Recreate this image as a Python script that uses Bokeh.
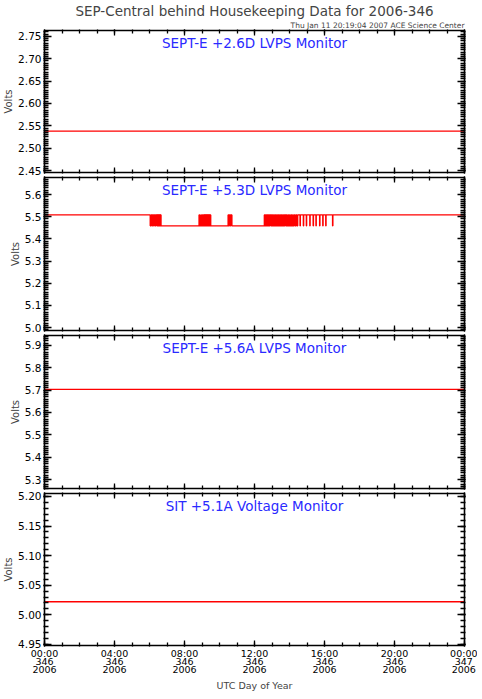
from bokeh.plotting import figure
from bokeh.models import Range1d, FixedTicker, LinearAxis, Label, Title, PrintfTickFormatter
from bokeh.layouts import column
from bokeh.embed import file_html
from bokeh.resources import INLINE
import numpy as np

TITLE = "SEP-Central behind Housekeeping Data for 2006-346"
SUBTITLE = "Thu Jan 11 20:19:04 2007 ACE Science Center"
panel_titles = ["SEPT-E +2.6D LVPS Monitor", "SEPT-E +5.3D LVPS Monitor",
                "SEPT-E +5.6A LVPS Monitor", "SIT +5.1A Voltage Monitor"]
x_label = "UTC Day of Year"
y_label = "Volts"

# x axis (hours since 2006-346 00:00)
x_tick_hours = [0, 4, 8, 12, 16, 20, 24]
x_tick_labels = ["00:00\n346\n2006", "04:00\n346\n2006", "08:00\n346\n2006",
                 "12:00\n346\n2006", "16:00\n346\n2006", "20:00\n346\n2006",
                 "00:00\n347\n2006"]

# y axes
y_ranges = [(2.4456, 2.7631), (4.987, 5.677), (5.260, 5.944), (4.948, 5.205)]
y_major = [[2.45, 2.50, 2.55, 2.60, 2.65, 2.70, 2.75],
           [5.0, 5.1, 5.2, 5.3, 5.4, 5.5, 5.6],
           [5.3, 5.4, 5.5, 5.6, 5.7, 5.8, 5.9],
           [4.95, 5.00, 5.05, 5.10, 5.15, 5.20]]
y_minor_step = [0.005, 0.01, 0.01, 0.01]
y_fmt = ["%.2f", "%.1f", "%.1f", "%.2f"]

# flat series
hours_flat = [0, 4, 8, 12, 16, 20, 24]
volts_26d = [2.538, 2.538, 2.538, 2.538, 2.538, 2.538, 2.538]
volts_56a = [5.703, 5.703, 5.703, 5.703, 5.703, 5.703, 5.703]
volts_51a = [5.022, 5.022, 5.022, 5.022, 5.022, 5.022, 5.022]

# +5.3D series: two levels, with intervals (hours) spent at the low level
volts_53d_high = 5.508
volts_53d_low = 5.459
low_start = [6.04, 6.14, 6.23, 6.32, 6.42, 6.48, 6.54, 6.60, 6.66,
             8.87, 8.97, 9.06, 9.13, 9.19, 9.25, 9.31, 9.37, 9.43, 9.50,
             10.53, 10.62, 10.71,
             12.60, 12.68, 12.76, 12.84, 12.93, 13.01, 13.09, 13.18, 13.26, 13.35,
             13.43, 13.52, 13.60, 13.69, 13.78, 13.86, 13.95, 14.04, 14.13, 14.22,
             14.32, 14.42,
             14.60, 14.79, 14.96, 15.16, 15.35, 15.51, 15.72, 15.90, 16.07, 16.46]
low_end = [6.09, 6.18, 6.27, 6.36, 6.45, 6.51, 6.57, 6.63, 8.83,
           8.93, 9.02, 9.10, 9.16, 9.22, 9.28, 9.34, 9.40, 9.46, 10.49,
           10.57, 10.66, 12.56,
           12.64, 12.72, 12.80, 12.88, 12.97, 13.05, 13.14, 13.22, 13.31, 13.39,
           13.48, 13.56, 13.65, 13.73, 13.82, 13.91, 14.00, 14.09, 14.18, 14.27,
           14.37, 14.47,
           14.62, 14.81, 14.98, 15.18, 15.37, 15.53, 15.74, 15.92, 16.09, 16.48]

t53 = [0.0]
v53 = [volts_53d_high]
for s, e in zip(low_start, low_end):
    t53 += [s, e]
    v53 += [volts_53d_low, volts_53d_high]
t53.append(24.0)
v53.append(volts_53d_high)

FONT = "DejaVu Sans"
RED = "#ff0000"
BLUE = "#2a2aff"

frame_heights = [142, 153, 153, 152]
borders = [(0, 4), (1, 4), (1, 2), (3, 0)]
FRAME_W = 420


def make_axis(kind, ticks, minor, show_labels, fmt=None):
    ax = LinearAxis()
    ax.ticker = FixedTicker(ticks=ticks, minor_ticks=minor)
    ax.axis_line_width = 1.6
    ax.axis_line_color = "black"
    ax.major_tick_out = 1
    ax.minor_tick_out = 1
    ax.major_tick_line_width = 1.3
    ax.minor_tick_line_width = 1.3
    ax.major_tick_line_color = "black"
    ax.minor_tick_line_color = "black"
    if kind == "y":
        ax.major_tick_in = 7
        ax.minor_tick_in = 4
    else:
        ax.major_tick_in = 5
        ax.minor_tick_in = 3
    if show_labels:
        ax.major_label_text_font = FONT
        ax.major_label_text_color = "black"
        if fmt is not None:
            ax.formatter = PrintfTickFormatter(format=fmt)
    else:
        ax.major_label_text_color = None
        ax.major_label_standoff = 0
    return ax


figs = []
x_minor = list(range(0, 25))
for i in range(4):
    y0, y1 = y_ranges[i]
    p = figure(frame_width=FRAME_W, frame_height=frame_heights[i],
               x_range=Range1d(0, 24), y_range=Range1d(y0, y1),
               output_backend="svg", toolbar_location=None,
               x_axis_location=None, y_axis_location=None,
               min_border_left=33, min_border_right=13,
               min_border_top=borders[i][0], min_border_bottom=borders[i][1])
    p.xgrid.visible = False
    p.ygrid.visible = False
    p.outline_line_color = None
    p.background_fill_color = None
    p.border_fill_color = None

    ymaj = y_major[i]
    ymin = list(np.round(np.arange(y0 - y0 % y_minor_step[i], y1 + y_minor_step[i], y_minor_step[i]), 4))

    left = make_axis("y", ymaj, ymin, True, y_fmt[i])
    left.major_label_text_font_size = "10.5px"
    left.major_label_standoff = 2
    left.axis_label = y_label
    left.axis_label_text_font = FONT
    left.axis_label_text_font_size = "10px"
    left.axis_label_text_font_style = "normal"
    left.axis_label_standoff = 1
    p.add_layout(left, "left")
    p.add_layout(make_axis("y", ymaj, ymin, False), "right")
    p.add_layout(make_axis("x", x_tick_hours, x_minor, False), "above")
    if i == 3:
        bot = make_axis("x", x_tick_hours, x_minor, True)
        bot.major_label_overrides = {h: lab for h, lab in zip(x_tick_hours, x_tick_labels)}
        bot.major_label_text_font_size = "9.5px"
        bot.major_label_text_line_height = 0.75
        bot.major_label_standoff = 1
        bot.axis_label = x_label
        bot.axis_label_text_font = FONT
        bot.axis_label_text_font_size = "9.5px"
        bot.axis_label_text_font_style = "normal"
        bot.axis_label_standoff = 2
        p.add_layout(bot, "below")
    else:
        p.add_layout(make_axis("x", x_tick_hours, x_minor, False), "below")

    if i == 0:
        p.line(hours_flat, volts_26d, line_color=RED, line_width=1.3)
    elif i == 1:
        p.step(t53, v53, mode="after", line_color=RED, line_width=1.3)
    elif i == 2:
        p.line(hours_flat, volts_56a, line_color=RED, line_width=1.3)
    else:
        p.line(hours_flat, volts_51a, line_color=RED, line_width=1.3)

    p.add_layout(Label(x=12, y=y1, text=panel_titles[i], text_align="center",
                       text_baseline="top", y_offset=-4, text_color=BLUE,
                       text_font=FONT, text_font_size="13.5px"))

    if i == 0:
        p.title.text = TITLE
        p.title.align = "center"
        p.title.text_font = FONT
        p.title.text_font_size = "13.5px"
        p.title.text_font_style = "normal"
        p.title.standoff = 0
        p.title.offset = 0
        p.add_layout(Title(text=SUBTITLE, align="right", text_font=FONT,
                           text_font_size="7.5px", text_font_style="normal",
                           standoff=0), "above")
    figs.append(p)

layout = column(*figs, spacing=0)
open("out.html", "w").write(file_html(layout, INLINE))
